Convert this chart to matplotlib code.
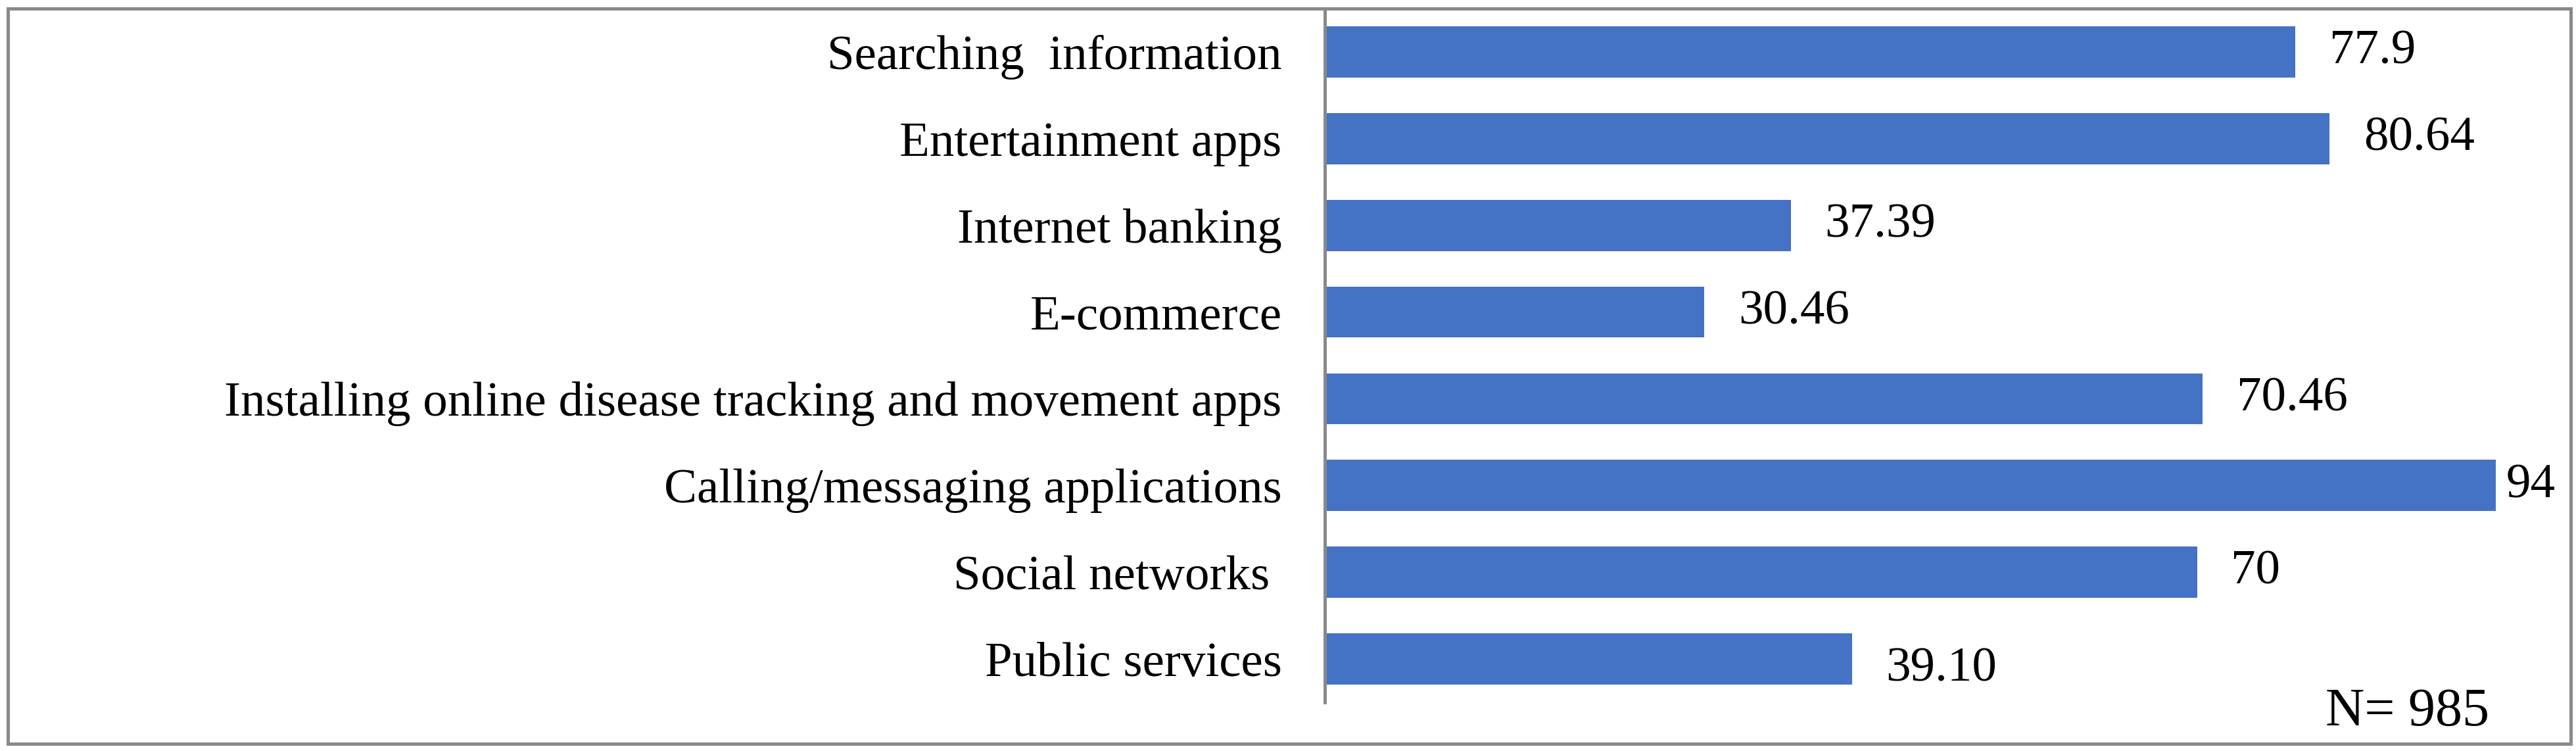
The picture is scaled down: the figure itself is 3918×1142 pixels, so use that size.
import matplotlib
matplotlib.use("Agg")
import matplotlib.pyplot as plt
from matplotlib.patches import Rectangle

categories = [
    "Searching  information",
    "Entertainment apps",
    "Internet banking",
    "E-commerce",
    "Installing online disease tracking and movement apps",
    "Calling/messaging applications",
    "Social networks ",
    "Public services",
]
values = [77.9, 80.64, 37.39, 30.46, 70.46, 94, 70, 42.3]
value_labels = ["77.9", "80.64", "37.39", "30.46", "70.46", "94", "70", "39.10"]
n_note = "N= 985"

plt.rcParams['font.family'] = ['Liberation Serif', 'DejaVu Serif']

W, H = 3918, 1142
fig = plt.figure(figsize=(W / 100, H / 100), dpi=100)
ax = fig.add_axes([2015 / W, 1 - 1068 / H, 1895 / W, 1055 / H])

bar_color = '#4472C4'
grey = '#898989'

ypos = list(range(len(categories)))
ax.barh(ypos, values, height=0.59, color=bar_color)
ax.set_xlim(0, 100)
ax.set_ylim(len(categories) - 0.5, -0.5)

ax.set_yticks(ypos)
ax.set_yticklabels(categories, fontsize=54)
ax.tick_params(axis='y', length=0, pad=47)
ax.set_xticks([])

for side in ['top', 'right', 'bottom']:
    ax.spines[side].set_visible(False)
ax.spines['left'].set_color(grey)
ax.spines['left'].set_linewidth(3.6)

# value labels, the last one sits a bit lower like in the original
for i, (v, lab) in enumerate(zip(values, value_labels)):
    gap = 10.8 if v > 90 else 37.4
    dy = -11 if i == len(values) - 1 else 0
    ax.annotate(lab, xy=(v, i), xytext=(gap, dy), textcoords='offset points',
                ha='left', va='center', fontsize=54, annotation_clip=False)

fig.text(3537 / W, 1 - 1103 / H, n_note, fontsize=59, ha='left', va='baseline')

# chart frame
fig.patches.append(Rectangle((11.5 / W, 1 - 1131 / H), 3898 / W, 1118.5 / H,
                             transform=fig.transFigure, fill=False,
                             edgecolor=grey, linewidth=3.6))

fig.savefig("out.png", dpi=100, facecolor='white')
